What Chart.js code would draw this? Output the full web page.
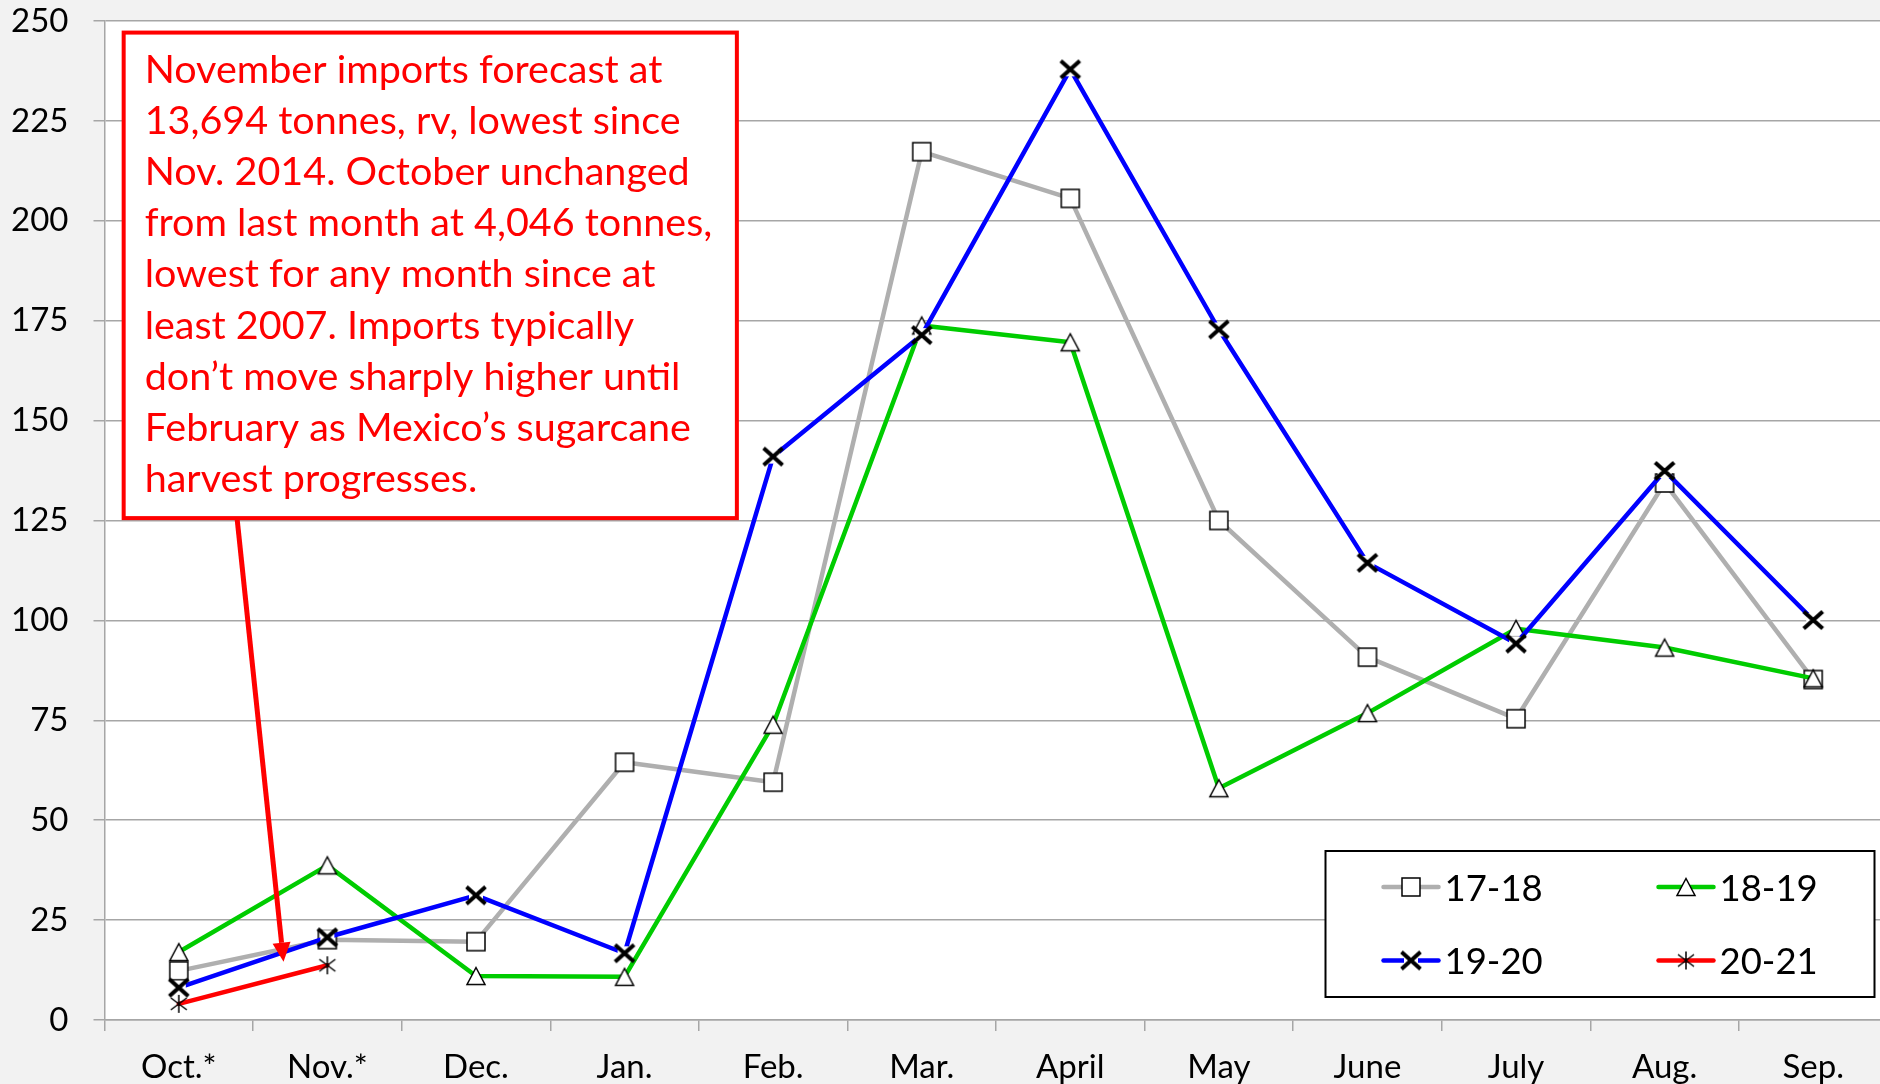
<!DOCTYPE html>
<html>
<head>
<meta charset="utf-8">
<script src="https://cdn.jsdelivr.net/npm/chart.js@4/dist/chart.umd.min.js"></script>
<style>
  html, body { margin: 0; padding: 0; overflow: hidden; background: #f2f2f2; }
  #wrap { width: 1902px; height: 1084px; }
</style>
</head>
<body>
<div id="wrap"><canvas id="chart" width="1902" height="1084"></canvas></div>
<script>
// Monthly imports, thousand tonnes, by marketing season (Oct.-Sep.)
const months = ['Oct.*', 'Nov.*', 'Dec.', 'Jan.', 'Feb.', 'Mar.', 'April', 'May', 'June', 'July', 'Aug.', 'Sep.'];
const seasons = ['17-18', '18-19', '19-20', '20-21'];
const imports1718 = [12.3, 20.1, 19.6, 64.5, 59.5, 217.3, 205.6, 125.0, 90.8, 75.4, 134.4, 85.2];
const imports1819 = [17.0, 38.7, 11.0, 10.8, 73.9, 173.8, 169.6, 58.0, 76.8, 97.9, 93.2, 85.5];
const imports1920 = [8.1, 20.7, 31.2, 16.7, 141.0, 171.4, 237.9, 172.8, 114.4, 94.2, 137.4, 100.1];
const imports2021 = [4.046, 13.694, null, null, null, null, null, null, null, null, null, null];
const yMin = 0, yMax = 250, yStep = 25;

const noteLines = [
  'November imports forecast at',
  '13,694 tonnes, rv, lowest since',
  'Nov. 2014. October unchanged',
  'from last month at 4,046 tonnes,',
  'lowest for any month since at',
  'least 2007. Imports typically',
  'don\u2019t move sharply higher until',
  'February as Mexico\u2019s sugarcane',
  'harvest progresses.'
];
// callout box corners and arrow ends, in (category index, value) space
const noteBox = { x0: -0.371, x1: 3.756, yTop: 247.1, yBottom: 125.6 };
const noteArrow = { fromX: 0.392, fromY: 125.6, toX: 0.705, toY: 14.6 };

const FONT = 'Lato, "Open Sans", sans-serif';

function makeMarker(kind) {
  const c = document.createElement('canvas');
  c.width = 28; c.height = 28;
  const g = c.getContext('2d');
  const m = 14;
  g.strokeStyle = '#000';
  g.fillStyle = '#fff';
  if (kind === 'square') {
    g.lineWidth = 1.5;
    g.fillRect(m - 9, m - 9, 18, 18);
    g.strokeRect(m - 9, m - 9, 18, 18);
  } else if (kind === 'triangle') {
    g.lineWidth = 1.5;
    g.beginPath();
    g.moveTo(m, m - 8.5);
    g.lineTo(m + 9, m + 8.5);
    g.lineTo(m - 9, m + 8.5);
    g.closePath();
    g.fill();
    g.stroke();
  } else if (kind === 'cross') {
    g.fillRect(m - 7, m - 7, 14, 14);
    g.lineWidth = 4;
    g.lineCap = 'butt';
    g.beginPath();
    g.moveTo(m - 9.5, m - 8.5); g.lineTo(m + 9.5, m + 8.5);
    g.moveTo(m + 9.5, m - 8.5); g.lineTo(m - 9.5, m + 8.5);
    g.stroke();
  } else if (kind === 'star') {
    g.lineWidth = 1.5;
    g.beginPath();
    g.moveTo(m, m - 9); g.lineTo(m, m + 9);
    g.moveTo(m - 8, m - 6); g.lineTo(m + 8, m + 6);
    g.moveTo(m + 8, m - 6); g.lineTo(m - 8, m + 6);
    g.stroke();
  }
  return c;
}

function series(label, data, color, marker, order) {
  return {
    label, data, order,
    borderColor: color,
    backgroundColor: color,
    borderWidth: 4.5,
    borderJoinStyle: 'round',
    borderCapStyle: 'round',
    tension: 0,
    fill: false,
    spanGaps: false,
    pointStyle: makeMarker(marker),
    pointRadius: 10,
    pointHoverRadius: 10
  };
}

const backgroundPlugin = {
  id: 'plotBackground',
  beforeDraw(chart) {
    const { ctx, chartArea: a } = chart;
    ctx.save();
    ctx.fillStyle = '#f2f2f2';
    ctx.fillRect(0, 0, chart.width, chart.height);
    ctx.fillStyle = '#ffffff';
    ctx.fillRect(a.left, a.top, a.right - a.left, a.bottom - a.top);
    ctx.restore();
  }
};

const calloutPlugin = {
  id: 'callout',
  afterDatasetsDraw(chart) {
    const { ctx } = chart;
    const xs = chart.scales.x, ys = chart.scales.y;
    const left = xs.getPixelForValue(noteBox.x0);
    const right = xs.getPixelForValue(noteBox.x1);
    const top = ys.getPixelForValue(noteBox.yTop);
    const bottom = ys.getPixelForValue(noteBox.yBottom);
    ctx.save();
    // arrow
    const ax0 = xs.getPixelForValue(noteArrow.fromX), ay0 = ys.getPixelForValue(noteArrow.fromY);
    const ax1 = xs.getPixelForValue(noteArrow.toX), ay1 = ys.getPixelForValue(noteArrow.toY);
    const ang = Math.atan2(ay1 - ay0, ax1 - ax0);
    const headLen = 19, headHalf = 9;
    const bx = ax1 - Math.cos(ang) * headLen, by = ay1 - Math.sin(ang) * headLen;
    ctx.strokeStyle = '#ff0000';
    ctx.fillStyle = '#ff0000';
    ctx.lineWidth = 5;
    ctx.beginPath();
    ctx.moveTo(ax0, ay0);
    ctx.lineTo(bx, by);
    ctx.stroke();
    ctx.beginPath();
    ctx.moveTo(ax1, ay1);
    ctx.lineTo(bx + Math.sin(ang) * headHalf, by - Math.cos(ang) * headHalf);
    ctx.lineTo(bx - Math.sin(ang) * headHalf, by + Math.cos(ang) * headHalf);
    ctx.closePath();
    ctx.fill();
    // box
    ctx.fillStyle = '#ffffff';
    ctx.fillRect(left, top, right - left, bottom - top);
    ctx.lineWidth = 4;
    ctx.strokeStyle = '#ff0000';
    ctx.strokeRect(left, top, right - left, bottom - top);
    // text
    ctx.fillStyle = '#ff0000';
    ctx.font = '39.5px ' + FONT;
    ctx.textAlign = 'left';
    ctx.textBaseline = 'alphabetic';
    const lineGap = 51.1;
    noteLines.forEach((t, i) => {
      ctx.fillText(t, left + 21, top + 50.5 + i * lineGap);
    });
    ctx.restore();
  }
};

const legendPlugin = {
  id: 'boxLegend',
  afterDraw(chart) {
    const { ctx, chartArea: a } = chart;
    const w = 549, h = 146;
    const right = a.right - 13, bottom = a.bottom - 23;
    const left = right - w, top = bottom - h;
    ctx.save();
    ctx.fillStyle = '#ffffff';
    ctx.fillRect(left, top, w, h);
    ctx.strokeStyle = '#000000';
    ctx.lineWidth = 2;
    ctx.strokeRect(left, top, w, h);
    const cols = [58, 333], rows = [36, 109.5];
    ctx.font = '36.5px ' + FONT;
    ctx.textBaseline = 'middle';
    ctx.textAlign = 'left';
    chart.data.datasets.forEach((ds, i) => {
      const x0 = left + cols[i % 2];
      const y = top + rows[Math.floor(i / 2)];
      ctx.strokeStyle = ds.borderColor;
      ctx.lineWidth = 4.5;
      ctx.lineCap = 'round';
      ctx.beginPath();
      ctx.moveTo(x0, y);
      ctx.lineTo(x0 + 55, y);
      ctx.stroke();
      const mk = ds.pointStyle;
      ctx.drawImage(mk, x0 + 27.5 - mk.width / 2, y - mk.height / 2);
      ctx.fillStyle = '#000000';
      ctx.fillText(ds.label, x0 + 61, y + 2);
    });
    ctx.restore();
  }
};

new Chart(document.getElementById('chart'), {
  type: 'line',
  data: {
    labels: months,
    datasets: [
      series(seasons[0], imports1718, '#afafaf', 'square', 4),
      series(seasons[1], imports1819, '#00cc00', 'triangle', 3),
      series(seasons[2], imports1920, '#0000ff', 'cross', 2),
      series(seasons[3], imports2021, '#ff0000', 'star', 1)
    ]
  },
  options: {
    responsive: false,
    animation: false,
    events: [],
    layout: { padding: { top: 21, right: 0, bottom: 0, left: 0 } },
    plugins: {
      legend: { display: false },
      tooltip: { enabled: false }
    },
    scales: {
      x: {
        offset: true,
        grid: { drawOnChartArea: false, drawTicks: true, tickLength: 11, color: '#a6a6a6', lineWidth: 1.5, offset: true },
        border: { display: true, color: '#a6a6a6', width: 1.5 },
        ticks: { font: { family: FONT, size: 33 }, color: '#000', padding: 17, maxRotation: 0, autoSkip: false },
        afterFit(s) { s.height = 64; s.paddingLeft = 0; s.paddingRight = 0; }
      },
      y: {
        min: yMin, max: yMax,
        ticks: { stepSize: yStep, font: { family: FONT, size: 33 }, color: '#000', padding: 25 },
        grid: { color: '#a6a6a6', lineWidth: 1.5, tickLength: 11, drawTicks: true },
        border: { display: true, color: '#a6a6a6', width: 1.5 },
        afterFit(s) { s.width = 104.5; s.paddingTop = 0; s.paddingBottom = 0; }
      }
    }
  },
  plugins: [backgroundPlugin, calloutPlugin, legendPlugin]
});
</script>
</body>
</html>
